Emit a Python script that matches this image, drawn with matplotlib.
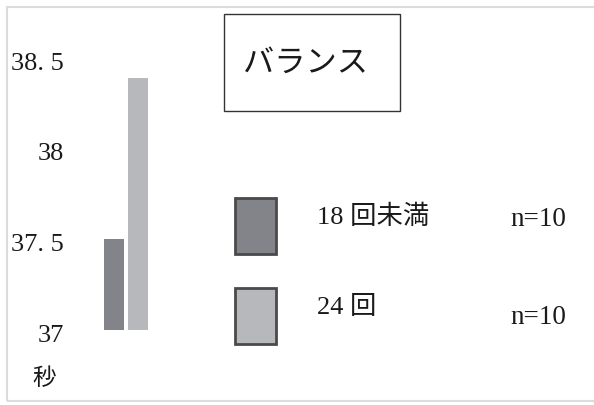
import matplotlib.pyplot as plt
from matplotlib.patches import Rectangle
from matplotlib.transforms import ScaledTranslation

plt.rcParams['font.family'] = ['Liberation Serif', 'Noto Sans CJK JP']

groups = ['18 回未満', '24 回']
seconds = [37.50, 38.39]
counts = [10, 10]
colors = ['#838489', '#b7b8bc']
ticks = [37, 37.5, 38, 38.5]
tick_labels = ['37', '37. 5', '38', '38. 5']
title = 'バランス'
unit = '秒'

W, H = 594, 405
fig = plt.figure(figsize=(W / 100, H / 100), dpi=100)


def fx(px):
    return px / W


def fy(py):
    return 1 - py / H


# outer light frame (right side runs off the picture)
fig.add_artist(Rectangle((fx(7), fy(401)), 2.0, (401 - 7) / H, transform=fig.transFigure,
                         fill=False, edgecolor='#dcdcdc', linewidth=1.5))

# bar axes: 37 at y=330px, 38.5 at y=58px
ax = fig.add_axes([fx(64), fy(330), fx(200 - 64), (330 - 58) / H])
ax.bar(range(len(seconds)), [s - 37 for s in seconds], bottom=37,
       width=20 / 24, color=colors)
ax.set_xlim(-50 / 24, 86 / 24)
ax.set_ylim(37, 38.5)
ax.set_yticks(ticks)
ax.set_yticklabels(tick_labels, fontsize=19, color='#1a1a1a')
ax.tick_params(axis='y', length=0, pad=0)
ax.set_xticks([])
# labels sit a few pixels below their tick value in the original
shift = ScaledTranslation(0, -3 / 100, fig.dpi_scale_trans)
for lbl in ax.get_yticklabels():
    lbl.set_transform(lbl.get_transform() + shift)
for sp in ax.spines.values():
    sp.set_visible(False)
ax.patch.set_alpha(0)

fig.text(fx(44), fy(379), unit, fontsize=17, ha='center', va='center', color='#1a1a1a')

# title box
fig.add_artist(Rectangle((fx(224), fy(111)), fx(400 - 224), (111 - 14) / H,
                         transform=fig.transFigure, fill=False,
                         edgecolor='#333333', linewidth=1))
fig.text(fx(305), fy(64), title, fontsize=22.5, ha='center', va='center', color='#1a1a1a')

# legend
box_top = [198, 288]
text_y = [217, 307]
n_y = [220, 318]
for i in range(len(groups)):
    fig.add_artist(Rectangle((fx(235), fy(box_top[i] + 56)), fx(41), 56 / H,
                             transform=fig.transFigure, facecolor=colors[i],
                             edgecolor='#4a4a4a', linewidth=2))
    fig.text(fx(317), fy(text_y[i]), groups[i], fontsize=19, ha='left', va='center',
             color='#1a1a1a')
    fig.text(fx(510), fy(n_y[i]), f'n={counts[i]}', fontsize=19.5, ha='left', va='center',
             color='#1a1a1a')

fig.savefig('out.png', dpi=100)
